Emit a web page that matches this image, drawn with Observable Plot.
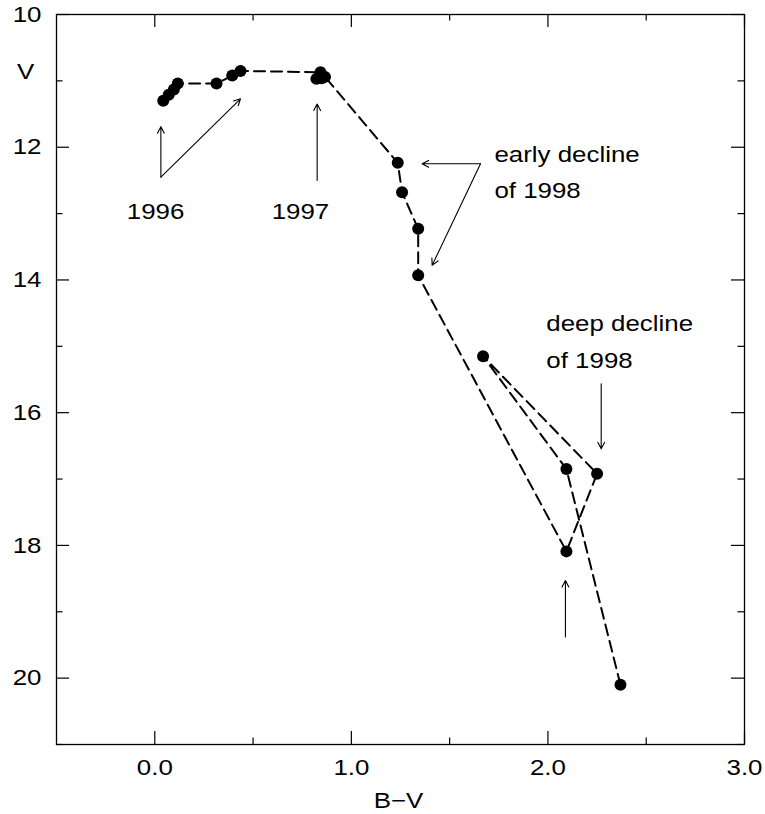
<!DOCTYPE html>
<html>
<head>
<meta charset="utf-8">
<script src="https://cdn.jsdelivr.net/npm/d3@7"></script>
<script src="https://cdn.jsdelivr.net/npm/@observablehq/plot@0.6"></script>
<style>
  html, body { margin: 0; padding: 0; background: #fff; color: #000; }
  #chart { width: 765px; height: 814px; }
</style>
</head>
<body>
<div id="chart"></div>
<script>
// ---- data ----
const bv   = [0.043, 0.071, 0.097, 0.117, 0.314, 0.394, 0.436,
              0.843, 0.822, 0.849, 0.866,
              1.236, 1.258, 1.340, 1.340, 2.094, 2.250, 1.670, 2.094, 2.369];
const vmag = [11.30, 11.21, 11.13, 11.04, 11.04, 10.92, 10.85,
              10.87, 10.97, 10.96, 10.94,
              12.235, 12.68, 13.23, 13.93, 18.09, 16.92, 15.15, 16.85, 20.10];

const xMajor = [0, 1, 2, 3];
const xMinor = [0.5, 1.5, 2.5];
const yMajor = [10, 12, 14, 16, 18, 20];
const yMinor = [11, 13, 15, 17, 19, 21];
const xTickLabels = ["0.0", "1.0", "2.0", "3.0"];

// annotation arrows: start (x1,y1) -> tip (x2,y2)
const arrowX1 = [0.031, 0.031, 0.826, 1.657, 1.657, 2.271, 2.089];
const arrowY1 = [12.45, 12.45, 12.50, 12.25, 12.25, 15.565, 19.38];
const arrowX2 = [0.031, 0.436, 0.826, 1.360, 1.411, 2.271, 2.089];
const arrowY2 = [11.69, 11.27, 11.35, 12.25, 13.78, 16.545, 18.53];

// annotation texts (baseline positions)
const noteText   = ["1996", "1997", "early decline", "of 1998", "deep decline", "of 1998"];
const noteX      = [0.004, 0.741, 1.728, 1.728, 1.992, 1.992];
const noteY      = [13.08, 13.08, 12.226, 12.762, 14.762, 15.324];
const noteAnchor = ["middle", "middle", "start", "start", "start", "start"];

// ---- build tables ----
const pts = bv.map((x, i) => ({x, y: vmag[i]}));
const arrows = arrowX1.map((x1, i) => ({x1, y1: arrowY1[i], x2: arrowX2[i], y2: arrowY2[i]}));
const notes = noteText.map((t, i) => ({t, x: noteX[i], y: noteY[i], a: noteAnchor[i]}));

const W = 765, H = 814;
const mL = 56, mR = 21, mT = 14, mB = 70;
const fw = W - mL - mR, fh = H - mT - mB;
const major = 13, minor = 6.5;

const plot = Plot.plot({
  width: W,
  height: H,
  marginLeft: mL, marginRight: mR, marginTop: mT, marginBottom: mB,
  style: {fontFamily: "'Liberation Sans', Arial, sans-serif", fontSize: "22.5px", background: "#fff", color: "#000"},
  x: {domain: [-0.5, 3.0]},
  y: {domain: [10, 21], reverse: true},
  marks: [
    Plot.frame({stroke: "#000", strokeWidth: 1.3}),
    // inward ticks, all four sides
    Plot.tickY(yMajor, {y: d => d, insetRight: fw - major, stroke: "#000", strokeWidth: 1.2}),
    Plot.tickY(yMinor, {y: d => d, insetRight: fw - minor, stroke: "#000", strokeWidth: 1.2}),
    Plot.tickY(yMajor, {y: d => d, insetLeft: fw - major, stroke: "#000", strokeWidth: 1.2}),
    Plot.tickY(yMinor, {y: d => d, insetLeft: fw - minor, stroke: "#000", strokeWidth: 1.2}),
    Plot.tickX(xMajor, {x: d => d, insetTop: fh - major, stroke: "#000", strokeWidth: 1.2}),
    Plot.tickX(xMinor, {x: d => d, insetTop: fh - minor, stroke: "#000", strokeWidth: 1.2}),
    Plot.tickX(xMajor, {x: d => d, insetBottom: fh - major, stroke: "#000", strokeWidth: 1.2}),
    Plot.tickX(xMinor, {x: d => d, insetBottom: fh - minor, stroke: "#000", strokeWidth: 1.2}),
    Plot.axisX({anchor: "bottom", ticks: xMajor, tickFormat: (d, i) => xTickLabels[xMajor.indexOf(d)], tickSize: 0, tickPadding: 15, label: null}),
    Plot.axisY({anchor: "left", ticks: yMajor, tickFormat: d => String(d), tickSize: 0, tickPadding: 15, label: null}),
    // axis titles
    Plot.text(["V"], {frameAnchor: "top-left", dx: -31, dy: 64, lineAnchor: "bottom", textAnchor: "middle"}),
    Plot.text(["B\u2212V"], {frameAnchor: "bottom", dx: -2, dy: 63, lineAnchor: "bottom", textAnchor: "middle"}),
    // data
    Plot.line(pts, {x: "x", y: "y", stroke: "#000", strokeWidth: 2, strokeDasharray: "11,6"}),
    Plot.dot(pts, {x: "x", y: "y", r: 6, fill: "#000", stroke: "none"}),
    // annotations
    Plot.arrow(arrows, {x1: "x1", y1: "y1", x2: "x2", y2: "y2", stroke: "#000", strokeWidth: 1.1, headLength: 10, headAngle: 55}),
    Plot.text(notes.filter(d => d.a === "middle"), {x: "x", y: "y", text: "t", textAnchor: "middle", lineAnchor: "bottom", fill: "#000"}),
    Plot.text(notes.filter(d => d.a === "start"), {x: "x", y: "y", text: "t", textAnchor: "start", lineAnchor: "bottom", fill: "#000"})
  ]
});

document.getElementById("chart").appendChild(plot);

// widen the lettering horizontally like the original (text only)
for (const t of plot.querySelectorAll("text")) {
  const b = t.getBBox();
  const anchor = getComputedStyle(t).textAnchor;
  const ax = anchor === "end" ? b.x + b.width : anchor === "middle" ? b.x + b.width / 2 : b.x;
  const prev = t.getAttribute("transform") || "";
  t.setAttribute("transform", `${prev} translate(${ax},0) scale(1.15,1) translate(${-ax},0)`);
}
</script>
</body>
</html>
